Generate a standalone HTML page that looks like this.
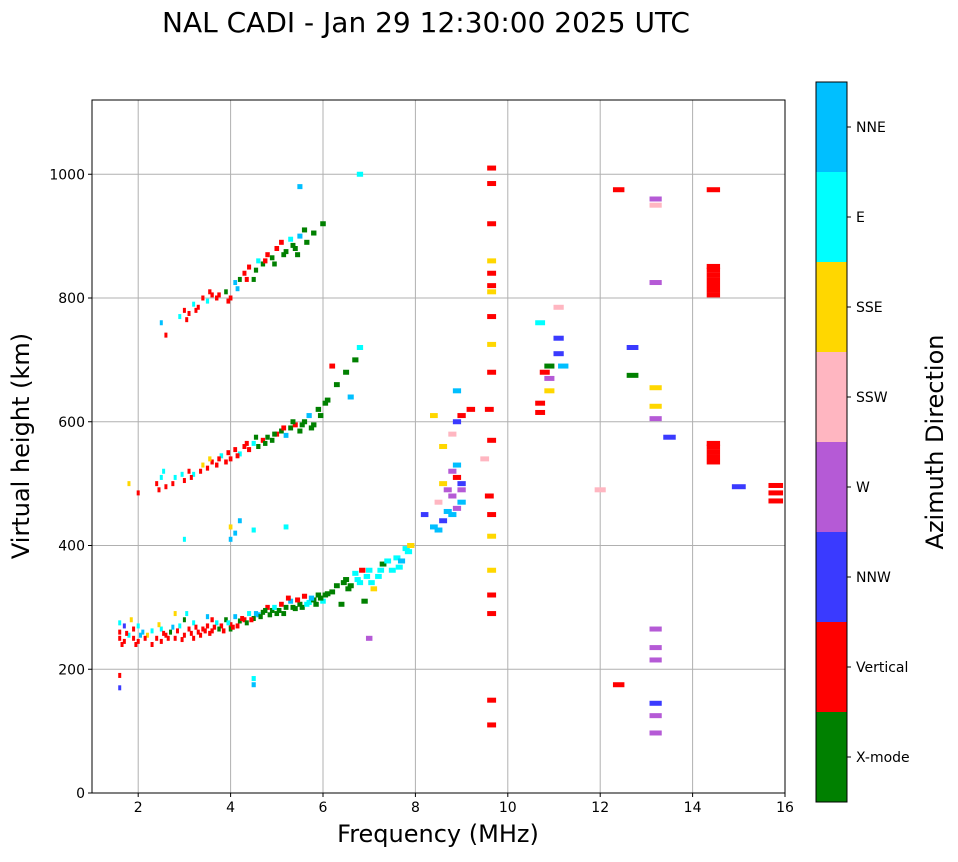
<!DOCTYPE html>
<html><head><meta charset="utf-8"><style>
body{margin:0;background:#fff;font-family:"Liberation Sans","DejaVu Sans",sans-serif}
svg text{font-family:"DejaVu Sans","Liberation Sans",sans-serif}
</style></head><body>
<svg id="chart" width="958" height="857" xmlns="http://www.w3.org/2000/svg">
<text x="426" y="32" font-size="28" text-anchor="middle">NAL CADI - Jan 29 12:30:00 2025 UTC</text>
<g id="grid"></g>
<g id="marks"></g>
<rect x="92" y="100" width="693" height="693" fill="none" stroke="#000" stroke-width="1"/>
<g id="ticks" font-size="14"></g>
<text x="438" y="842" font-size="24" text-anchor="middle">Frequency (MHz)</text>
<text transform="translate(29,446) rotate(-90)" font-size="24" text-anchor="middle">Virtual height (km)</text>
<g id="cbar"></g>
<text transform="translate(943,442) rotate(-90)" font-size="24" text-anchor="middle">Azimuth Direction</text>
</svg>
<script>
const dirLabels=["X-mode","Vertical","NNW","W","SSW","SSE","E","NNE"];
const dirColors=["#008000","#ff0000","#3a3aff","#b55ad6","#ffb6c1","#ffd700","#00ffff","#00bfff"];
const xTicks=[2,4,6,8,10,12,14,16];
const yTicks=[0,200,400,600,800,1000];
const trace1=[[1.6,260,1],[1.6,250,1],[1.7,270,2],[1.7,245,1],[1.8,255,6],[1.9,265,1],[1.9,250,1],[2.0,245,1],[2.0,270,6],[2.1,260,7],[2.2,255,5],[2.4,250,1],[2.5,245,1],[2.5,265,6],[2.6,255,1],[2.7,260,0],[2.8,250,1],[2.9,270,6],[3.0,255,1],[3.0,280,0],[3.1,265,1],[3.2,275,6],[3.3,260,1],[3.4,265,1],[3.5,270,1],[3.5,285,7],[3.6,262,1],[3.7,275,6],[3.8,270,1],[3.9,280,0],[4.0,272,1],[4.1,285,7],[4.2,278,0],[4.3,280,1],[4.4,290,6],[4.5,282,0],[4.6,288,7],[4.7,292,0],[4.8,300,1],[4.9,295,0],[5.0,290,0],[5.1,305,1],[5.2,300,0],[5.3,310,7],[5.4,298,0],[5.5,305,0],[5.6,318,1],[5.7,308,6],[5.8,312,0],[5.9,320,0],[6.0,310,6],[6.1,322,0],[6.3,335,0],[6.4,305,0],[6.5,345,0],[6.6,335,0],[6.7,355,6],[6.8,340,6],[6.9,310,0],[7.0,360,6],[7.1,330,5],[7.2,350,6],[7.3,370,0],[7.5,360,6],[7.6,380,6],[7.7,375,7],[7.8,395,6],[7.9,400,5],[1.6,170,2],[1.6,190,1],[4.5,175,7],[4.5,185,6],[7.0,250,3],[2.3,240,1],[3.2,250,1],[3.6,280,1],[4.0,265,0],[2.8,290,5],
[1.6,275,6],[1.65,240,1],[1.75,258,1],[1.85,280,5],[1.95,240,1],[2.05,255,7],[2.15,250,1],[2.3,262,6],[2.45,272,5],[2.55,258,1],[2.65,250,1],[2.75,268,7],[2.85,262,1],[2.95,248,1],[3.05,290,6],[3.15,258,1],[3.25,268,1],[3.35,255,1],[3.45,262,1],[3.55,258,1],[3.65,268,1],[3.75,265,0],[3.85,262,1],[3.95,275,6],[4.05,268,1],[4.15,270,1],[4.25,282,1],[4.35,275,0],[4.45,280,1],[4.55,290,7],[4.65,285,0],[4.75,295,0],[4.85,288,0],[4.95,300,6],[5.05,295,0],[5.15,290,0],[5.25,315,1],[5.35,300,0],[5.45,312,1],[5.55,300,0],[5.65,305,6],[5.75,315,7],[5.85,305,0],[5.95,315,0],[6.05,320,0],[6.2,325,0],[6.45,340,0],[6.55,330,0],[6.75,345,6],[6.85,360,1],[6.95,350,6],[7.05,340,6],[7.25,360,6],[7.4,375,6],[7.65,365,6],[7.85,390,6]];
const trace2=[[1.8,500,5],[2.0,485,1],[2.4,500,1],[2.5,510,6],[2.6,495,1],[2.8,510,6],[3.0,505,1],[3.1,520,1],[3.2,515,6],[3.4,530,5],[3.5,525,1],[3.6,535,1],[3.7,530,1],[3.8,545,6],[3.9,535,1],[4.0,540,1],[4.1,555,1],[4.2,548,6],[4.3,560,1],[4.4,555,1],[4.5,565,6],[4.6,560,0],[4.7,570,1],[4.8,575,0],[4.9,570,0],[5.0,580,1],[5.1,585,0],[5.2,578,7],[5.3,590,0],[5.4,595,1],[5.5,585,0],[5.6,600,0],[5.7,610,7],[5.8,595,0],[5.9,620,0],[6.1,635,0],[6.3,660,0],[6.5,680,0],[6.7,700,0],[6.2,690,1],[6.6,640,7],[6.8,720,6],[4.0,430,5],[4.1,420,7],[4.5,425,6],[5.2,430,6],[3.0,410,6],
[2.45,490,1],[2.55,520,6],[2.75,500,1],[2.95,515,6],[3.15,510,1],[3.35,520,1],[3.55,540,5],[3.75,540,1],[3.95,550,1],[4.15,545,1],[4.35,565,1],[4.55,575,0],[4.75,565,0],[4.95,580,0],[5.15,590,1],[5.35,600,0],[5.55,595,0],[5.75,590,0],[5.95,610,0],[6.05,630,0],[4.2,440,7],[4.0,410,7]];
const trace3=[[2.5,760,7],[2.6,740,1],[2.9,770,6],[3.0,780,1],[3.1,775,1],[3.2,790,6],[3.3,785,1],[3.4,800,1],[3.5,795,6],[3.6,805,1],[3.7,800,1],[3.9,810,0],[4.0,800,1],[4.1,825,7],[4.2,830,0],[4.3,840,1],[4.4,850,1],[4.5,830,0],[4.6,860,6],[4.7,855,0],[4.8,870,1],[4.9,865,0],[5.0,880,1],[5.1,890,1],[5.2,875,0],[5.3,895,6],[5.4,880,0],[5.5,900,7],[5.6,910,0],[5.8,905,0],[6.0,920,0],[5.5,980,7],[6.8,1000,6],
[3.05,765,1],[3.25,780,1],[3.55,810,1],[3.75,805,1],[3.95,795,1],[4.15,815,7],[4.35,830,1],[4.55,845,0],[4.75,860,1],[4.95,855,0],[5.15,870,0],[5.35,885,0],[5.45,870,0],[5.65,890,0]];
const cluster=[[8.2,450,2],[8.4,430,7],[8.5,470,4],[8.6,440,2],[8.7,490,3],[8.8,480,3],[8.9,460,3],[8.9,510,1],[9.0,500,2],[8.6,560,5],[8.8,580,4],[8.9,600,2],[9.0,610,1],[9.2,620,1],[8.4,610,5],[8.9,650,7],[9.5,540,4],[9.6,480,1],[9.6,620,1],[9.0,470,7],[8.8,450,7],[8.6,500,5],[8.9,530,7],[8.5,425,7],[8.7,455,7],[8.8,520,3],[9.0,490,3]];
const sparse=[[9.65,1010,1],[9.65,985,1],[9.65,920,1],[9.65,840,1],[9.65,820,1],[9.65,770,1],[9.65,680,1],[9.65,570,1],[9.65,450,1],[9.65,360,5],[9.65,320,1],[9.65,290,1],[9.65,150,1],[9.65,110,1],[9.65,860,5],[9.65,810,5],[9.65,725,5],[9.65,415,5],[10.7,760,6],[10.7,630,1],[10.7,615,1],[10.8,680,1],[10.9,670,3],[10.9,650,5],[10.9,690,0],[11.1,735,2],[11.1,710,2],[11.1,785,4],[11.2,690,7],[12.0,490,4],[12.4,975,1],[12.4,175,1],[12.7,720,2],[12.7,675,0],[13.2,960,3],[13.2,950,4],[13.2,825,3],[13.2,655,5],[13.2,625,5],[13.2,605,3],[13.2,265,3],[13.2,235,3],[13.2,215,3],[13.2,145,2],[13.2,125,3],[13.2,97,3],[13.5,575,2],[14.45,975,1],[14.45,805,1],[14.45,813,1],[14.45,821,1],[14.45,829,1],[14.45,837,1],[14.45,845,1],[14.45,851,1],[14.45,535,1],[14.45,543,1],[14.45,551,1],[14.45,559,1],[14.45,565,1],[15.0,495,2],[15.8,472,1],[15.8,485,1],[15.8,497,1]];
const NS="http://www.w3.org/2000/svg";
const X0=92,X1=785,Y0=793,Y1=100;
const xs=f=>X0+(f-1)/15*(X1-X0);
const ys=h=>Y0-h/1120*(Y0-Y1);
function mk(tag,attrs,parent){const e=document.createElementNS(NS,tag);for(const k in attrs)e.setAttribute(k,attrs[k]);parent.appendChild(e);return e;}
const grid=document.getElementById('grid'),ticks=document.getElementById('ticks'),marks=document.getElementById('marks'),cbar=document.getElementById('cbar');
xTicks.forEach(t=>{const x=xs(t);
 if(t<16){const l=mk('line',{x1:x,x2:x,y1:Y1,y2:Y0,stroke:'#b0b0b0','stroke-width':1},grid);
 
 }
 mk('line',{x1:x,x2:x,y1:Y0,y2:Y0+4,stroke:'#000'},ticks);
 const tx=mk('text',{x:x,y:Y0+19,'text-anchor':'middle'},ticks);tx.textContent=t;
 
 });
yTicks.forEach(t=>{const y=ys(t);
 if(t>0){const l=mk('line',{x1:X0,x2:X1,y1:y,y2:y,stroke:'#b0b0b0','stroke-width':1},grid);
 
 }
 mk('line',{x1:X0-4,x2:X0,y1:y,y2:y,stroke:'#000'},ticks);
 const tx=mk('text',{x:X0-7,y:y+5,'text-anchor':'end'},ticks);tx.textContent=t;
 
 });
[trace1,trace2,trace3,cluster,sparse].forEach(arr=>arr.forEach(p=>{
 const w=Math.max(3,(xs(p[0]*1.02)-xs(p[0])));
 const r=mk('rect',{x:xs(p[0])-w/2,y:ys(p[1])-2.5,width:w,height:5,fill:dirColors[p[2]]},marks);
 
 }));
const CB0=82,CB1=802,CX=816,CW=31,bh=(CB1-CB0)/dirLabels.length;
dirLabels.forEach((lab,i)=>{const y=CB1-(i+1)*bh;
 const r=mk('rect',{x:CX,y:y,width:CW,height:bh,fill:dirColors[i]},cbar);
 
 
 const yc=y+bh/2;
 mk('line',{x1:CX+CW,x2:CX+CW+4,y1:yc,y2:yc,stroke:'#000'},cbar);
 const t=mk('text',{x:CX+CW+9,y:yc+5,'font-size':14},cbar);t.textContent=lab;
 
 });
mk('rect',{x:CX,y:CB0,width:CW,height:CB1-CB0,fill:'none',stroke:'#000'},cbar);
</script>
</body></html>
